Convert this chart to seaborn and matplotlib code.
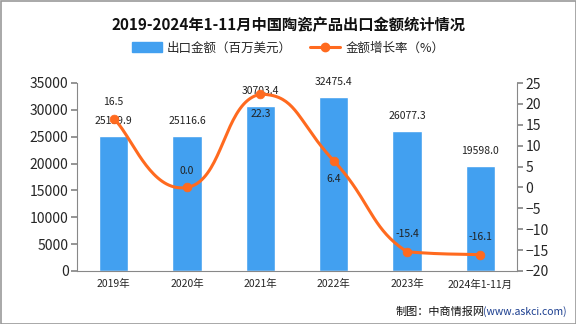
import numpy as np
import pandas as pd
import matplotlib
matplotlib.use("Agg")
import matplotlib.pyplot as plt
import seaborn as sns
from matplotlib.lines import Line2D
from matplotlib.patches import Patch, Rectangle

categories = ["2019年", "2020年", "2021年", "2022年", "2023年", "2024年1-11月"]
export_values = [25119.9, 25116.6, 30703.4, 32475.4, 26077.3, 19598.0]
growth_rates = [16.5, 0.0, 22.3, 6.4, -15.4, -16.1]
left_ticks = [0, 5000, 10000, 15000, 20000, 25000, 30000, 35000]
right_ticks = [-20, -15, -10, -5, 0, 5, 10, 15, 20, 25]
# label offsets (points) for the growth-rate labels
rate_label_dy = [12, 12, -14, -13, 13, 13]

sns.set_theme(style="white")
plt.rcParams['font.family'] = ['Noto Sans CJK SC', 'DejaVu Sans']

BAR = "#42A0F0"
LINE = "#FF6A1F"
AX = "#888888"

fig = plt.figure(figsize=(5.76, 3.24), dpi=100)
ax = fig.add_axes([77/576, 1-271/324, (517-77)/576, (271-83)/324])

df = pd.DataFrame({"cat": categories, "val": export_values, "g": growth_rates})
sns.barplot(data=df, x="cat", y="val", color=BAR, width=0.4, ax=ax, saturation=1)
ax.set_xlim(-0.5, 5.5)
ax.set_ylim(0, 35000)
ax.set_yticks(left_ticks)
ax.set_xlabel("")
ax.set_ylabel("")
for s in ["top", "right"]:
    ax.spines[s].set_visible(False)
for s in ["left", "bottom"]:
    ax.spines[s].set_color(AX)
    ax.spines[s].set_linewidth(0.8)
ax.tick_params(axis="y", length=4, color=AX, labelsize=10, pad=2, left=True)
ax.tick_params(axis="x", length=0, labelsize=7.5, pad=6)
for i, v in enumerate(export_values):
    ax.annotate(f"{v:.1f}", (i, v), xytext=(0, 7), textcoords="offset points",
                ha="center", va="bottom", fontsize=7.5, color="#222222")

ax2 = ax.twinx()
ax2.set_ylim(-20, 25)
ax2.set_yticks(right_ticks)
for s in ["top", "left", "bottom"]:
    ax2.spines[s].set_visible(False)
ax2.spines["right"].set_color(AX)
ax2.spines["right"].set_linewidth(0.8)
ax2.tick_params(axis="y", length=4, color=AX, labelsize=10, pad=2, right=True)

# smooth rendering of the line through the data points (control points clamped to data range)
xs = np.arange(len(growth_rates), dtype=float)
ys = np.array(growth_rates, dtype=float)
ymin, ymax = ys.min(), ys.max()
curve_x, curve_y = [], []
t = np.linspace(0, 1, 40)
k = 0.5
for i in range(len(xs) - 1):
    p0 = (xs[i], ys[i]); p3 = (xs[i+1], ys[i+1])
    prev = (xs[i-1], ys[i-1]) if i > 0 else p0
    nxt = (xs[i+2], ys[i+2]) if i + 2 < len(xs) else p3
    c1 = (p0[0] + k*(p3[0]-prev[0])/2, np.clip(p0[1] + k*(p3[1]-prev[1])/2, ymin, ymax))
    c2 = (p3[0] - k*(nxt[0]-p0[0])/2, np.clip(p3[1] - k*(nxt[1]-p0[1])/2, ymin, ymax))
    bx = (1-t)**3*p0[0] + 3*(1-t)**2*t*c1[0] + 3*(1-t)*t**2*c2[0] + t**3*p3[0]
    by = (1-t)**3*p0[1] + 3*(1-t)**2*t*c1[1] + 3*(1-t)*t**2*c2[1] + t**3*p3[1]
    curve_x.extend(bx); curve_y.extend(by)
ax2.plot(curve_x, curve_y, color=LINE, lw=2.2, zorder=3)
sns.scatterplot(x=xs, y=ys, color=LINE, s=40, edgecolor=LINE, ax=ax2, zorder=4, legend=False)
for i, g in enumerate(growth_rates):
    ax2.annotate(f"{g:.1f}", (i, g), xytext=(0, rate_label_dy[i]), textcoords="offset points",
                 ha="center", va="center", fontsize=7.5, color="#222222")

fig.text(0.5, 1-25/324, "2019-2024年1-11月中国陶瓷产品出口金额统计情况", ha="center", va="center",
         fontsize=11, fontweight="bold", color="#111111")
handles = [Patch(facecolor=BAR, edgecolor=BAR),
           Line2D([0], [0], color=LINE, lw=2.2, marker="o", markersize=6)]
fig.legend(handles, ["出口金额（百万美元）", "金额增长率（%）"], loc="center",
           bbox_to_anchor=(0.5, 1-48/324), ncol=2, frameon=False, fontsize=9,
           handlelength=2.4, handleheight=0.8, columnspacing=1.5, handletextpad=0.4)

fig.text(567/576, 1-312/324, "(www.askci.com)", ha="right", va="center", fontsize=7.5, color="#1a3d8f")
fig.text(485/576, 1-312/324, "制图：中商情报网", ha="right", va="center", fontsize=8, color="#111111")

fig.patches.append(Rectangle((0.5/576, 0.5/324), 1-1/576, 1-1/324, transform=fig.transFigure,
                             fill=False, edgecolor="#999999", lw=1.2))
fig.savefig("out.png", dpi=100)
